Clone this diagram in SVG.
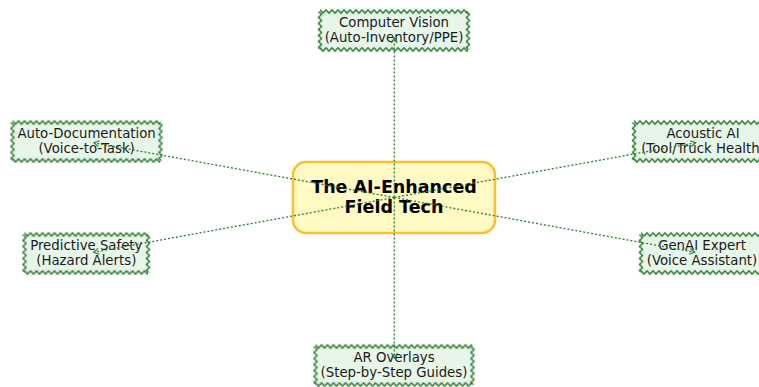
<svg xmlns="http://www.w3.org/2000/svg" width="759" height="387" viewBox="0 0 759 387">
  <style>
    .box { fill: #e8f5e9; stroke: none; }
    .zh { fill: url(#zh); }
    .zv { fill: url(#zv); }
    .lbl { font-family: "DejaVu Sans", sans-serif; font-size: 13.3px; fill: #1a1a1a; text-anchor: middle; }
    .hub { fill: #fff9c4; stroke: #fbc02d; stroke-width: 2.5; }
    .hubt { font-family: "DejaVu Sans", sans-serif; font-size: 17.5px; font-weight: bold; fill: #000; text-anchor: middle; }
    .edge { fill: none; stroke: #2e7d32; stroke-width: 1.3; stroke-dasharray: 2 2; marker-end: url(#ah); }
  </style>
  <defs>
    <pattern id="zh" patternUnits="userSpaceOnUse" width="6" height="6">
      <polyline points="0,1.3 3,4.7 6,1.3" fill="none" stroke="#2e7d32" stroke-width="1.5" stroke-linecap="round" stroke-linejoin="round"/>
    </pattern>
    <pattern id="zv" patternUnits="userSpaceOnUse" width="6" height="6">
      <polyline points="1.3,0 4.7,3 1.3,6" fill="none" stroke="#2e7d32" stroke-width="1.5" stroke-linecap="round" stroke-linejoin="round"/>
    </pattern>
    <marker id="ah" markerUnits="userSpaceOnUse" markerWidth="10" markerHeight="10" refX="6" refY="5" orient="auto">
      <path d="M1,2 L6,5 L1,8" fill="none" stroke="#2e7d32" stroke-width="1.2"/>
    </marker>
  </defs>

  <g id="node-cv">
    <rect class="box" x="320" y="11.5" width="148" height="38"/>
    <rect class="zh" width="148" height="6" transform="translate(320,8.5)"/>
    <rect class="zh" width="148" height="6" transform="translate(320,46.5)"/>
    <rect class="zv" width="6" height="38" transform="translate(317,11.5)"/>
    <rect class="zv" width="6" height="38" transform="translate(465,11.5)"/>
    <text class="lbl" x="394" y="27">Computer Vision</text>
    <text class="lbl" x="394" y="42">(Auto-Inventory/PPE)</text>
  </g>

  <g id="node-ad">
    <rect class="box" x="12.5" y="122.5" width="148" height="38"/>
    <rect class="zh" width="148" height="6" transform="translate(12.5,119.5)"/>
    <rect class="zh" width="148" height="6" transform="translate(12.5,157.5)"/>
    <rect class="zv" width="6" height="38" transform="translate(9.5,122.5)"/>
    <rect class="zv" width="6" height="38" transform="translate(157.5,122.5)"/>
    <text class="lbl" x="86.6" y="138">Auto-Documentation</text>
    <text class="lbl" x="86.6" y="153">(Voice-to-Task)</text>
  </g>

  <g id="node-ac">
    <rect class="box" x="634" y="122.5" width="138" height="38"/>
    <rect class="zh" width="138" height="6" transform="translate(634,119.5)"/>
    <rect class="zh" width="138" height="6" transform="translate(634,157.5)"/>
    <rect class="zv" width="6" height="38" transform="translate(631,122.5)"/>
    <rect class="zv" width="6" height="38" transform="translate(769,122.5)"/>
    <text class="lbl" x="703" y="138">Acoustic AI</text>
    <text class="lbl" x="703" y="153">(Tool/Truck Health)</text>
  </g>

  <g id="node-ps">
    <rect class="box" x="24.5" y="234.5" width="123.5" height="38"/>
    <rect class="zh" width="123.5" height="6" transform="translate(24.5,231.5)"/>
    <rect class="zh" width="123.5" height="6" transform="translate(24.5,269.5)"/>
    <rect class="zv" width="6" height="38" transform="translate(21.5,234.5)"/>
    <rect class="zv" width="6" height="38" transform="translate(145,234.5)"/>
    <text class="lbl" x="86.3" y="250">Predictive Safety</text>
    <text class="lbl" x="86.3" y="265">(Hazard Alerts)</text>
  </g>

  <g id="node-ge">
    <rect class="box" x="641" y="234.5" width="122" height="38"/>
    <rect class="zh" width="122" height="6" transform="translate(641,231.5)"/>
    <rect class="zh" width="122" height="6" transform="translate(641,269.5)"/>
    <rect class="zv" width="6" height="38" transform="translate(638,234.5)"/>
    <rect class="zv" width="6" height="38" transform="translate(760,234.5)"/>
    <text class="lbl" x="702" y="250">GenAI Expert</text>
    <text class="lbl" x="702" y="265">(Voice Assistant)</text>
  </g>

  <g id="node-ar">
    <rect class="box" x="315.5" y="346.5" width="157" height="38"/>
    <rect class="zh" width="157" height="6" transform="translate(315.5,343.5)"/>
    <rect class="zh" width="157" height="6" transform="translate(315.5,381.5)"/>
    <rect class="zv" width="6" height="38" transform="translate(312.5,346.5)"/>
    <rect class="zv" width="6" height="38" transform="translate(469.5,346.5)"/>
    <text class="lbl" x="394" y="362">AR Overlays</text>
    <text class="lbl" x="394" y="377">(Step-by-Step Guides)</text>
  </g>

  <g id="node-hub">
    <rect class="hub" x="293" y="162" width="202" height="71" rx="13" ry="13"/>
    <text class="hubt" x="394" y="193">The AI-Enhanced</text>
    <text class="hubt" x="394" y="212.5">Field Tech</text>
  </g>

  <g id="connectors">
    <line class="edge" x1="394.3" y1="197.5" x2="394.3" y2="38"/>
    <line class="edge" x1="394.3" y1="197.5" x2="394.3" y2="358"/>
    <line class="edge" x1="394.3" y1="197.5" x2="94" y2="142.8"/>
    <line class="edge" x1="394.3" y1="197.5" x2="695.6" y2="142.8"/>
    <line class="edge" x1="394.3" y1="197.5" x2="93.7" y2="252.2"/>
    <line class="edge" x1="394.3" y1="197.5" x2="694.6" y2="252.2"/>
  </g>
</svg>
